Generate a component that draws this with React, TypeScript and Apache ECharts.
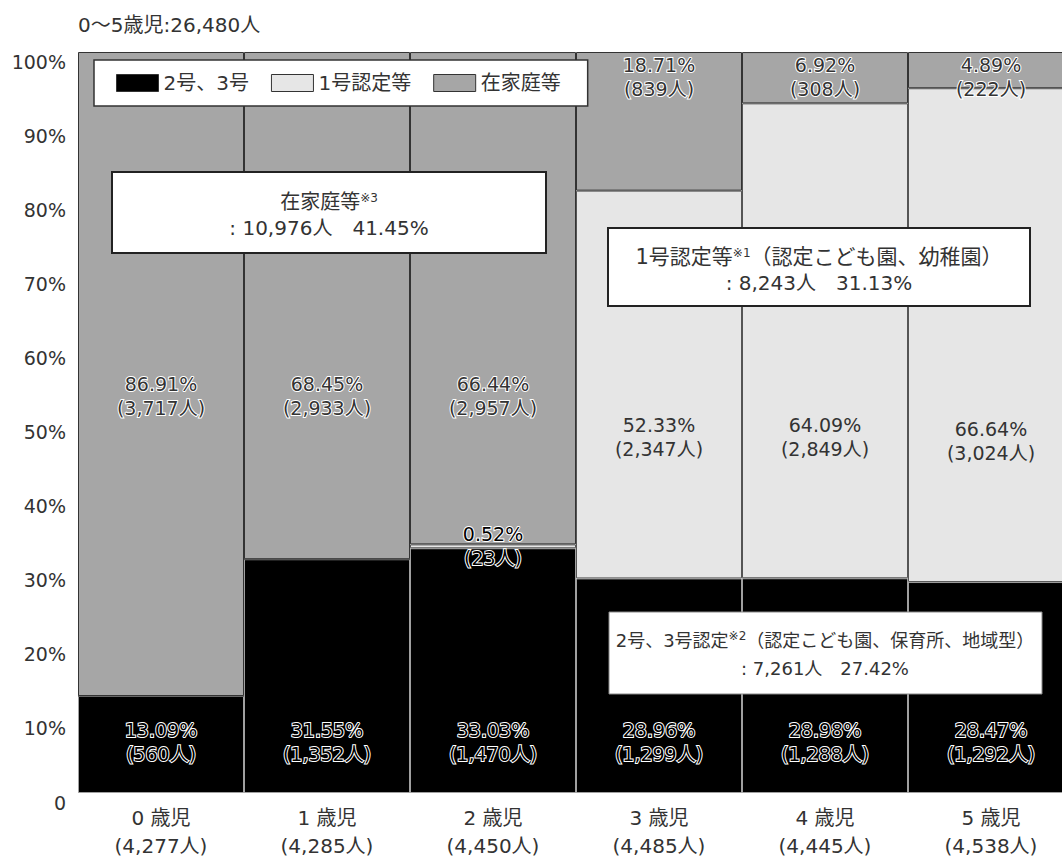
import React, { useEffect, useRef } from "react";
import * as echarts from "echarts";

const FONT = "'DejaVu Sans', 'Noto Sans CJK JP', sans-serif";

const titleText = "0〜5歳児:26,480人";
const categories = ["0 歳児", "1 歳児", "2 歳児", "3 歳児", "4 歳児", "5 歳児"];
const totals = [4277, 4285, 4450, 4485, 4445, 4538];
const seriesNames = ["2号、3号", "1号認定等", "在家庭等"];

const nursePct = [13.09, 31.55, 33.03, 28.96, 28.98, 28.47];
const nurseCount = [560, 1352, 1470, 1299, 1288, 1292];
const kinderPct = [0, 0, 0.52, 52.33, 64.09, 66.64];
const kinderCount = [0, 0, 23, 2347, 2849, 3024];
const homePct = [86.91, 68.45, 66.44, 18.71, 6.92, 4.89];
const homeCount = [3717, 2933, 2957, 839, 308, 222];

const homeBox = { title: "在家庭等", note: "※3", line2: ": 10,976人　41.45%" };
const kinderBox = { title: "1号認定等", note: "※1", rest: "（認定こども園、幼稚園）", line2: ": 8,243人　31.13%" };
const nurseBox = { title: "2号、3号認定", note: "※2", rest: "（認定こども園、保育所、地域型）", line2: ": 7,261人　27.42%" };

// label layout (style only)
const homeLabelDistance = [320, 320, 320, 1, 1, 1];

const fmt = (n: number) => n.toLocaleString("en-US");
const labelText = (p: number, c: number) => `${p.toFixed(2)}%\n(${fmt(c)}人)`;

export default function App() {
  const ref = useRef<HTMLDivElement>(null);
  useEffect(() => {
    if (!ref.current) return;
    const chart = echarts.init(ref.current, null, { renderer: "svg" });

    const baseLabel = { fontFamily: FONT, fontSize: 19, lineHeight: 24 };

    const nurseData = nursePct.map((v, i) => ({
      value: v,
      label: {
        show: true,
        ...baseLabel,
        position: "insideBottom",
        distance: 27,
        color: "#000",
        textBorderColor: "#fff",
        textBorderWidth: 2,
        formatter: labelText(v, nurseCount[i]),
      },
    }));
    const kinderData = kinderPct.map((v, i) => ({
      value: v,
      label:
        v <= 0
          ? { show: false }
          : v < 2
          ? {
              show: true,
              ...baseLabel,
              position: "inside",
              color: "#000",
              textBorderColor: "#fff",
              textBorderWidth: 2,
              formatter: labelText(v, kinderCount[i]),
            }
          : {
              show: true,
              ...baseLabel,
              position: "insideBottom",
              distance: 117,
              color: "#333",
              formatter: labelText(v, kinderCount[i]),
            },
    }));
    const homeData = homePct.map((v, i) => ({
      value: v,
      label: {
        show: true,
        ...baseLabel,
        position: "insideTop",
        distance: homeLabelDistance[i],
        color: "#333",
        textBorderColor: "#fff",
        textBorderWidth: 2,
        formatter: labelText(v, homeCount[i]),
      },
    }));

    const boxText = (x: number, y: number, text: string, size: number) => ({
      type: "text",
      z: 101,
      style: {
        x,
        y,
        text,
        align: "center",
        verticalAlign: "middle",
        fontSize: size,
        fontFamily: FONT,
        fill: "#333",
        rich: {
          sup: { fontSize: 12, fontFamily: FONT, fill: "#333", verticalAlign: "top", padding: [0, 0, 8, 0] },
        },
      },
    });

    chart.setOption({
      animation: false,
      backgroundColor: "#fff",
      title: {
        text: titleText,
        left: 78,
        top: 15,
        padding: 0,
        textStyle: { fontSize: 20, fontWeight: "normal", color: "#333", fontFamily: FONT },
      },
      legend: {
        data: seriesNames,
        left: 94,
        top: 60,
        icon: "rect",
        itemWidth: 42,
        itemHeight: 17,
        itemGap: 22,
        padding: [13, 27, 13, 22],
        backgroundColor: "#fff",
        borderColor: "#333",
        borderWidth: 1.5,
        selectedMode: false,
        itemStyle: { borderColor: "#333", borderWidth: 1 },
        textStyle: { fontSize: 20, color: "#333", fontFamily: FONT },
        z: 100,
      },
      grid: { left: 78, top: 52, width: 996, height: 745 },
      xAxis: {
        type: "category",
        data: categories.map((c, i) => `${c}\n(${fmt(totals[i])}人)`),
        axisLine: { show: false },
        axisTick: { show: false },
        axisLabel: { margin: 11, fontSize: 20, lineHeight: 28, color: "#333", fontFamily: FONT, interval: 0 },
      },
      yAxis: {
        type: "value",
        min: 0,
        max: 100,
        interval: 10,
        splitLine: { show: false },
        axisLine: { show: false },
        axisTick: { show: false },
        axisLabel: {
          margin: 12,
          fontSize: 19,
          color: "#333",
          fontFamily: FONT,
          verticalAlign: "top",
          formatter: (v: number) => (v === 0 ? "0" : `${v}%`),
        },
      },
      series: [
        {
          name: seriesNames[0],
          type: "bar",
          stack: "all",
          barCategoryGap: "0%",
          itemStyle: { color: "#000", borderColor: "#a0a0a0", borderWidth: 1 },
          data: nurseData,
        },
        {
          name: seriesNames[1],
          type: "bar",
          stack: "all",
          barCategoryGap: "0%",
          itemStyle: { color: "#e6e6e6", borderColor: "#555", borderWidth: 1 },
          data: kinderData,
        },
        {
          name: seriesNames[2],
          type: "bar",
          stack: "all",
          barCategoryGap: "0%",
          itemStyle: { color: "#a6a6a6", borderColor: "#333", borderWidth: 1 },
          data: homeData,
        },
      ],
      graphic: [
        {
          type: "rect",
          z: 100,
          shape: { x: 112, y: 172, width: 434, height: 81 },
          style: { fill: "#fff", stroke: "#222", lineWidth: 2 },
        },
        boxText(329, 202, `${homeBox.title}{sup|${homeBox.note}}`, 20),
        boxText(329, 228, homeBox.line2, 20),
        {
          type: "rect",
          z: 100,
          shape: { x: 608, y: 228, width: 422, height: 78 },
          style: { fill: "#fff", stroke: "#222", lineWidth: 2 },
        },
        boxText(819, 257, `${kinderBox.title}{sup|${kinderBox.note}}${kinderBox.rest}`, 21),
        boxText(819, 283, kinderBox.line2, 20),
        {
          type: "rect",
          z: 100,
          shape: { x: 609, y: 612, width: 433, height: 82 },
          style: { fill: "#fff", stroke: "#888", lineWidth: 1 },
        },
        boxText(825, 640, `${nurseBox.title}{sup|${nurseBox.note}}${nurseBox.rest}`, 18),
        boxText(825, 668, nurseBox.line2, 18),
      ],
    });
    return () => chart.dispose();
  }, []);
  return (
    <div style={{ position: "absolute", left: 0, top: 0, width: 1062, height: 860, overflow: "hidden" }}>
      <div ref={ref} style={{ width: 1100, height: 860 }} />
    </div>
  );
}
